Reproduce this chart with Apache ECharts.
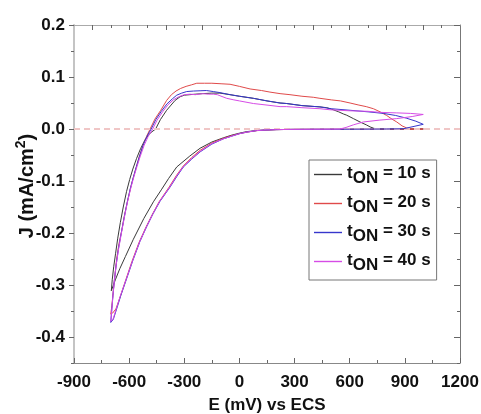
<!DOCTYPE html>
<html>
<head>
<meta charset="utf-8">
<script src="https://cdn.jsdelivr.net/npm/echarts@6/dist/echarts.min.js"></script>
<style>html,body{margin:0;padding:0;background:#fff}#c{width:481px;height:414px}</style>
</head>
<body>
<div id="c"></div>
<script>
// ---- data (E in mV vs ECS, J in mA/cm2) ----
const T_ON = [10, 20, 30, 40];
const X_TICKS = [-900, -600, -300, 0, 300, 600, 900, 1200];
const Y_TICKS = [-0.4, -0.3, -0.2, -0.1, 0.0, 0.1, 0.2];

const E10 = [-697,-692,-684,-674,-662,-648,-632,-614,-597,-580,-560,-538,-514,-486,-456,-430,-396,-372,-350,-323,-300,-270,-240,-200,-150,-106,-51,0,76,150,221,257,340,438,475,510,540,565,584,620,656,690,711,730,747,850,1000,
  900,700,500,350,275,200,140,94,40,0,-44,-88,-150,-214,-270,-341,-385,-425,-468,-520,-577,-620,-650,-675,-697];
const J10 = [-0.311,-0.290,-0.265,-0.240,-0.210,-0.180,-0.150,-0.120,-0.097,-0.077,-0.057,-0.038,-0.021,-0.008,0.000,0.018,0.036,0.046,0.055,0.062,0.065,0.066,0.067,0.068,0.069,0.069,0.066,0.063,0.059,0.054,0.050,0.049,0.045,0.0425,0.041,0.037,0.033,0.029,0.0265,0.020,0.0135,0.008,0.004,0.0015,0.000,0.000,0.000,
  -0.0003,-0.0003,-0.0004,-0.0006,-0.0008,-0.0012,-0.002,-0.003,-0.005,-0.008,-0.012,-0.017,-0.025,-0.037,-0.052,-0.073,-0.095,-0.117,-0.140,-0.172,-0.212,-0.245,-0.268,-0.290,-0.311];

const E20 = [-700,-694,-686,-677,-668,-655,-640,-625,-608,-592,-577,-560,-545,-523,-505,-486,-460,-428,-396,-370,-345,-320,-290,-260,-232,-190,-150,-100,-51,0,58,120,166,221,275,340,402,438,500,550,602,650,690,729,765,801,830,856,885,910,940,1000,
  950,800,600,400,275,200,140,94,40,0,-44,-88,-150,-214,-260,-305,-342,-383,-437,-475,-510,-546,-585,-618,-648,-672,-690,-700];
const J20 = [-0.356,-0.340,-0.310,-0.280,-0.250,-0.220,-0.195,-0.165,-0.138,-0.113,-0.093,-0.072,-0.053,-0.030,-0.014,0.000,0.019,0.036,0.055,0.066,0.073,0.078,0.082,0.085,0.088,0.088,0.088,0.087,0.086,0.082,0.077,0.074,0.071,0.068,0.066,0.063,0.061,0.059,0.056,0.054,0.050,0.046,0.043,0.039,0.033,0.026,0.019,0.0135,0.006,0.002,0.000,0.000,
  -0.0003,-0.0003,-0.0004,-0.0005,-0.0008,-0.0012,-0.002,-0.0032,-0.006,-0.009,-0.013,-0.018,-0.027,-0.041,-0.055,-0.071,-0.089,-0.112,-0.140,-0.165,-0.190,-0.218,-0.255,-0.290,-0.322,-0.346,-0.354,-0.356];

const E30 = [-700,-695,-688,-680,-670,-658,-643,-627,-610,-594,-578,-561,-545,-524,-503,-480,-455,-425,-395,-365,-341,-314,-287,-250,-214,-180,-142,-106,-51,0,76,150,221,257,340,438,500,602,700,783,850,907,960,1000,
  950,892,800,600,400,275,200,140,94,40,0,-44,-88,-150,-214,-260,-305,-340,-378,-432,-470,-505,-541,-580,-613,-645,-668,-686,-700];
const J30 = [-0.372,-0.350,-0.320,-0.290,-0.260,-0.230,-0.200,-0.170,-0.140,-0.115,-0.094,-0.073,-0.054,-0.031,-0.014,0.000,0.018,0.034,0.048,0.058,0.065,0.069,0.072,0.073,0.0735,0.074,0.072,0.070,0.066,0.063,0.059,0.054,0.050,0.049,0.045,0.0425,0.039,0.036,0.033,0.030,0.026,0.021,0.015,0.009,
  0.005,0.0005,0.000,-0.0004,-0.0005,-0.0008,-0.0012,-0.002,-0.003,-0.006,-0.009,-0.014,-0.019,-0.029,-0.044,-0.058,-0.073,-0.091,-0.112,-0.139,-0.163,-0.188,-0.216,-0.253,-0.287,-0.320,-0.346,-0.366,-0.372];

const E40 = [-700,-695,-688,-680,-670,-657,-642,-626,-609,-592,-576,-558,-541,-518,-496,-472,-448,-418,-390,-360,-330,-300,-269,-240,-200,-170,-142,-120,-106,-69,-30,0,76,150,221,257,340,438,493,600,700,765,856,930,1000,
  940,856,760,674,620,580,547,500,400,275,200,140,94,40,0,-44,-88,-150,-214,-260,-305,-341,-380,-434,-472,-507,-543,-582,-615,-647,-670,-688,-700];
const J40 = [-0.370,-0.350,-0.320,-0.290,-0.260,-0.230,-0.200,-0.170,-0.140,-0.115,-0.094,-0.073,-0.054,-0.031,-0.014,0.000,0.017,0.033,0.046,0.056,0.062,0.066,0.067,0.066,0.068,0.067,0.067,0.066,0.064,0.059,0.056,0.054,0.049,0.046,0.043,0.043,0.041,0.039,0.037,0.035,0.034,0.032,0.031,0.030,0.028,
  0.024,0.020,0.017,0.0135,0.008,0.003,0.000,-0.0003,-0.0005,-0.0008,-0.0012,-0.002,-0.003,-0.006,-0.009,-0.014,-0.019,-0.028,-0.043,-0.057,-0.072,-0.090,-0.112,-0.139,-0.164,-0.189,-0.217,-0.254,-0.288,-0.320,-0.346,-0.366,-0.370];

const COLORS = ['#3a3a3a', '#e04a4a', '#3636cc', '#d64ce6'];
// ---------------------------------------------

const FONT = "'Liberation Sans', Arial, sans-serif";
const zip = (xs, ys) => xs.map((x, i) => [x, ys[i]]);
const SETS = [[E10, J10], [E20, J20], [E30, J30], [E40, J40]];
const names = T_ON.map(t => 'tON = ' + t + ' s');

const range = (a, b, s) => { const r = []; for (let v = a; v <= b + 1e-9; v += s) r.push(Math.round(v * 1000) / 1000); return r; };
const yMinor = range(-0.45, 0.15, 0.1);
const topMajor = range(-800, 1000, 200);
const topMinor = range(-700, 1100, 200);

const lblStyle = { fontFamily: FONT, fontWeight: 'bold', fontSize: 17, color: '#111' };
const tickStyle = { color: '#666', width: 1 };
const noLine = { show: false, onZero: false };

const chart = echarts.init(document.getElementById('c'), null, { renderer: 'canvas' });
chart.setOption({
  animation: false,
  backgroundColor: '#fff',
  grid: { left: 74, right: 21, top: 25, bottom: 51, containLabel: false, outerBoundsMode: 'none' },
  legend: {
    orient: 'vertical', left: 309, top: 160,
    padding: [5, 6, 6, 5], itemGap: 7, itemWidth: 28, itemHeight: 1.4,
    icon: 'rect',
    backgroundColor: '#fff', borderColor: '#777', borderWidth: 1, borderRadius: 0,
    data: names,
    formatter: n => {
      const i = names.indexOf(n);
      return '{t|t}{s|ON}{t| = ' + T_ON[i] + ' s}';
    },
    textStyle: {
      rich: {
        t: { fontFamily: FONT, fontWeight: 'bold', fontSize: 17, color: '#111', lineHeight: 19, verticalAlign: 'top' },
        s: { fontFamily: FONT, fontWeight: 'bold', fontSize: 17, color: '#111', lineHeight: 19, padding: [5, 0, 0, 0], verticalAlign: 'top' }
      }
    }
  },
  xAxis: [
    {
      type: 'value', position: 'bottom', min: -900, max: 1200, interval: 300,
      name: 'E (mV) vs ECS', nameLocation: 'middle', nameGap: 34, nameMoveOverlap: false,
      nameTextStyle: { fontFamily: FONT, fontWeight: 'bold', fontSize: 17, color: '#111' },
      axisLine: { show: true, onZero: false, lineStyle: { color: '#888', width: 1 } },
      axisTick: { show: true, inside: true, length: 5, lineStyle: tickStyle },
      minorTick: { show: true, splitNumber: 2, length: 3, lineStyle: tickStyle },
      axisLabel: Object.assign({ margin: 11, customValues: X_TICKS, formatter: v => String(v) }, lblStyle),
      splitLine: { show: false }, minorSplitLine: { show: false }
    },
    {
      type: 'value', position: 'top', min: -900, max: 1200,
      axisLine: { show: true, onZero: false, lineStyle: { color: '#aaa', width: 1 } },
      axisTick: { show: true, inside: true, length: 5, customValues: topMajor, lineStyle: tickStyle },
      axisLabel: { show: false }, splitLine: { show: false }
    },
    {
      type: 'value', position: 'top', min: -900, max: 1200,
      axisLine: noLine,
      axisTick: { show: true, inside: true, length: 3, customValues: topMinor, lineStyle: tickStyle },
      axisLabel: { show: false }, splitLine: { show: false }
    }
  ],
  yAxis: [
    {
      type: 'value', position: 'left', min: -0.45, max: 0.2,
      name: '{a|J (mA/cm}{sup|2}{a|)}', nameLocation: 'middle', nameGap: 37, nameMoveOverlap: false,
      nameTextStyle: {
        padding: [0, 0, 0, 16],
        rich: {
          a: { fontFamily: FONT, fontWeight: 'bold', fontSize: 20, color: '#111', lineHeight: 23, verticalAlign: 'bottom' },
          sup: { fontFamily: FONT, fontWeight: 'bold', fontSize: 14, color: '#111', lineHeight: 15, verticalAlign: 'top' }
        }
      },
      axisLine: { show: true, onZero: false, lineStyle: { color: '#c4c4c4', width: 2 } },
      axisTick: { show: true, inside: false, length: 5, customValues: Y_TICKS, lineStyle: tickStyle },
      axisLabel: Object.assign({
        margin: 9, customValues: Y_TICKS,
        formatter: v => (Math.abs(v) < 1e-9 ? 0 : v).toFixed(1)
      }, lblStyle),
      splitLine: { show: false }
    },
    {
      type: 'value', position: 'left', min: -0.45, max: 0.2,
      axisLine: noLine,
      axisTick: { show: true, inside: false, length: 3, customValues: yMinor, lineStyle: tickStyle },
      axisLabel: { show: false }, splitLine: { show: false }
    },
    {
      type: 'value', position: 'right', min: -0.45, max: 0.2,
      axisLine: { show: true, onZero: false, lineStyle: { color: '#777', width: 1 } },
      axisTick: { show: true, inside: true, length: 6, customValues: Y_TICKS, lineStyle: tickStyle },
      axisLabel: { show: false }, splitLine: { show: false }
    },
    {
      type: 'value', position: 'right', min: -0.45, max: 0.2,
      axisLine: noLine,
      axisTick: { show: true, inside: true, length: 3, customValues: yMinor, lineStyle: tickStyle },
      axisLabel: { show: false }, splitLine: { show: false }
    }
  ],
  series: SETS.map((s, i) => ({
    name: names[i],
    type: 'line',
    xAxisIndex: 0, yAxisIndex: 0,
    data: zip(s[0], s[1]),
    symbol: 'none', smooth: false,
    lineStyle: { color: COLORS[i], width: 1 },
    itemStyle: { color: COLORS[i] },
    z: 3 + i,
    markLine: i === 0 ? {
      silent: true, symbol: ['none', 'none'], animation: false,
      label: { show: false },
      lineStyle: { color: '#f0c6c6', width: 2, type: [6, 4] },
      data: [{ yAxis: 0 }]
    } : undefined
  }))
});
</script>
</body>
</html>
